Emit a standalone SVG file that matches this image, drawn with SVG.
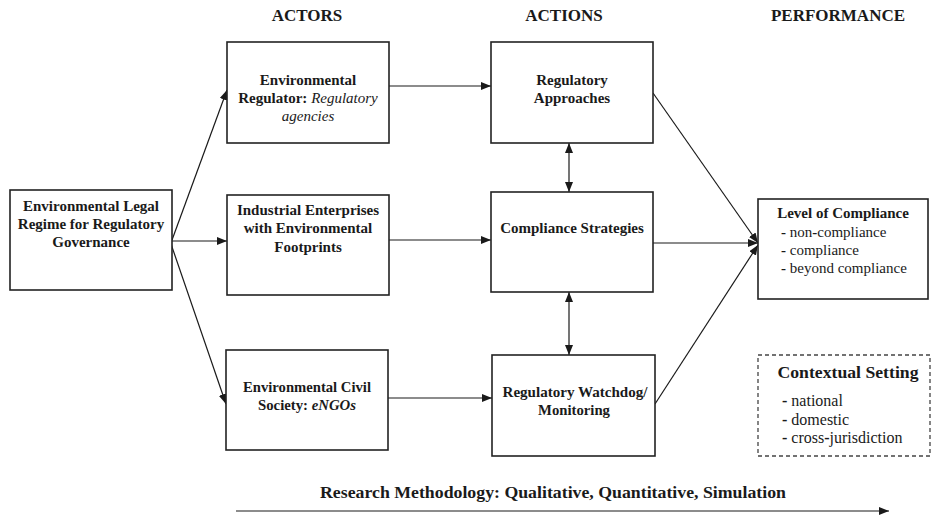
<svg xmlns="http://www.w3.org/2000/svg" width="931" height="518" viewBox="0 0 931 518" font-family="'Liberation Serif', 'Times New Roman', Times, serif">
<defs>
<marker id="ah" viewBox="0 0 10 8" refX="10" refY="4" markerWidth="10" markerHeight="8" markerUnits="userSpaceOnUse" orient="auto-start-reverse">
<path d="M0,0 L10,4 L0,8 z" fill="#1a1a1a"/>
</marker>
<style>
.box{fill:#fff;stroke:#222;stroke-width:1.6}
.dash{fill:#fff;stroke:#444;stroke-width:1.3;stroke-dasharray:4 3}
text{font-family:'Liberation Serif','Times New Roman',Times,serif}
.t{font-size:15px;fill:#1a1a1a;text-anchor:middle;font-weight:bold}
.h{font-size:17px;fill:#1a1a1a;text-anchor:middle;font-weight:bold}
.r{font-size:15px;fill:#1a1a1a;font-weight:normal}
.r16{font-size:16px;fill:#1a1a1a;font-weight:normal}
.i{font-style:italic;font-weight:normal}
.c{stroke:#1a1a1a;stroke-width:1.2;fill:none;marker-end:url(#ah)}
.b{marker-start:url(#ah)}
</style>
</defs>
<g id="headers">
<text class="h" x="307" y="21">ACTORS</text>
<text class="h" x="564" y="21">ACTIONS</text>
<text class="h" x="838" y="21">PERFORMANCE</text>
</g>
<g id="connectors">
<line class="c" x1="172" y1="240" x2="227" y2="90"/>
<line class="c" x1="172" y1="241" x2="227" y2="241"/>
<line class="c" x1="171" y1="244" x2="226" y2="404"/>
<line class="c" x1="389" y1="86" x2="491" y2="86"/>
<line class="c" x1="389" y1="240" x2="491" y2="240"/>
<line class="c" x1="388" y1="398" x2="492" y2="398"/>
<line class="c b" x1="569" y1="143" x2="569" y2="192"/>
<line class="c b" x1="569" y1="292" x2="569" y2="355"/>
<line class="c" x1="653" y1="93" x2="758" y2="243"/>
<line class="c" x1="653" y1="243" x2="758" y2="243"/>
<line class="c" x1="655" y1="404" x2="758" y2="245"/>
<line class="c" x1="236" y1="511" x2="889" y2="511"/>
</g>
<g id="legal-regime">
<rect class="box" x="10" y="190" width="162" height="100"/>
<text class="t" x="91" y="211">Environmental Legal</text>
<text class="t" x="91" y="229">Regime for Regulatory</text>
<text class="t" x="91" y="247">Governance</text>
</g>
<g id="env-regulator">
<rect class="box" x="227" y="42" width="162" height="101"/>
<text class="t" x="308" y="85">Environmental</text>
<text class="t" x="308" y="103">Regulator: <tspan class="i">Regulatory</tspan></text>
<text class="t i" x="308" y="121">agencies</text>
</g>
<g id="industrial">
<rect class="box" x="227" y="195" width="162" height="100"/>
<text class="t" x="308" y="215">Industrial Enterprises</text>
<text class="t" x="308" y="233">with Environmental</text>
<text class="t" x="308" y="252">Footprints</text>
</g>
<g id="civil-society">
<rect class="box" x="226" y="350" width="162" height="100"/>
<text class="t" x="307" y="392" textLength="128" lengthAdjust="spacingAndGlyphs">Environmental Civil</text>
<text class="t" x="307" y="410" textLength="98" lengthAdjust="spacingAndGlyphs">Society: <tspan font-style="italic">eNGOs</tspan></text>
</g>
<g id="regulatory-approaches">
<rect class="box" x="491" y="42" width="162" height="101"/>
<text class="t" x="572" y="85">Regulatory</text>
<text class="t" x="572" y="103">Approaches</text>
</g>
<g id="compliance-strategies">
<rect class="box" x="491" y="192" width="162" height="100"/>
<text class="t" x="572" y="233">Compliance Strategies</text>
</g>
<g id="watchdog">
<rect class="box" x="492" y="355" width="163" height="101"/>
<text class="t" x="575" y="397" textLength="145" lengthAdjust="spacingAndGlyphs">Regulatory Watchdog/</text>
<text class="t" x="574" y="415" textLength="72" lengthAdjust="spacingAndGlyphs">Monitoring</text>
</g>
<g id="level-of-compliance">
<rect class="box" x="758" y="199" width="170" height="100"/>
<text class="t" x="843" y="218">Level of Compliance</text>
<text class="r" x="781" y="237"><tspan font-weight="bold">-</tspan> non<tspan font-weight="bold">-</tspan>compliance</text>
<text class="r" x="781" y="255"><tspan font-weight="bold">-</tspan> compliance</text>
<text class="r" x="781" y="273"><tspan font-weight="bold">-</tspan> beyond compliance</text>
</g>
<g id="contextual-setting">
<rect class="dash" x="758" y="355" width="172" height="101"/>
<text class="h" x="848" y="378" textLength="141" lengthAdjust="spacingAndGlyphs">Contextual Setting</text>
<text class="r16" x="782" y="406"><tspan font-weight="bold">-</tspan> national</text>
<text class="r16" x="782" y="425"><tspan font-weight="bold">-</tspan> domestic</text>
<text class="r16" x="782" y="443"><tspan font-weight="bold">-</tspan> cross<tspan font-weight="bold">-</tspan>jurisdiction</text>
</g>
<g id="research-methodology">
<text class="h" x="553" y="498" font-size="18" textLength="466" lengthAdjust="spacingAndGlyphs">Research Methodology: Qualitative, Quantitative, Simulation</text>
</g>
</svg>
